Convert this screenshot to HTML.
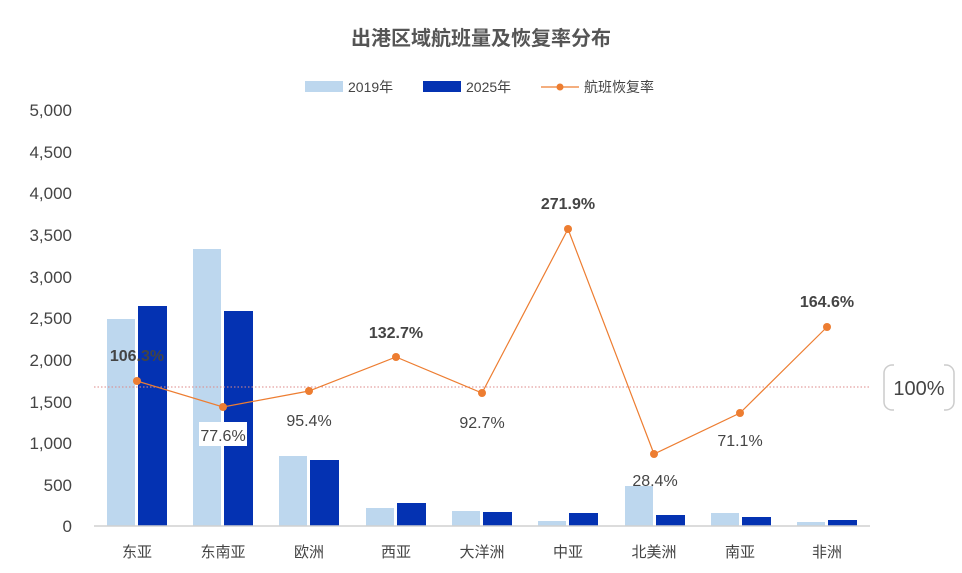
<!DOCTYPE html>
<html><head><meta charset="utf-8"><style>
body{margin:0;background:#fff;width:962px;height:568px;overflow:hidden}
text{font-family:"Liberation Sans","Noto Sans CJK SC",sans-serif}
</style></head><body>
<svg width="962" height="568" xmlns="http://www.w3.org/2000/svg">
<text x="481" y="45" text-anchor="middle" font-size="20" font-weight="bold" fill="#555">出港区域航班量及恢复率分布</text>
<g font-size="14" fill="#444">
<rect x="305" y="81" width="38" height="11" fill="#bdd7ee"/><text x="348" y="92">2019年</text>
<rect x="423" y="81" width="38" height="11" fill="#0432b2"/><text x="466" y="92">2025年</text>
<line x1="541" y1="87" x2="579" y2="87" stroke="#ed7d31" stroke-width="1.2"/><circle cx="560" cy="87" r="3.5" fill="#ed7d31"/><text x="584" y="92">航班恢复率</text>
</g>
<g font-size="17" fill="#444" text-anchor="end">
<text x="72" y="116">5,000</text><text x="72" y="158">4,500</text><text x="72" y="199">4,000</text>
<text x="72" y="241">3,500</text><text x="72" y="283">3,000</text><text x="72" y="324">2,500</text>
<text x="72" y="366">2,000</text><text x="72" y="408">1,500</text><text x="72" y="449">1,000</text>
<text x="72" y="491">500</text><text x="72" y="532">0</text>
</g>
<g fill="#bdd7ee">
<rect x="107" y="319" width="28" height="207"/><rect x="193" y="249" width="28" height="277"/>
<rect x="279" y="456" width="28" height="70"/><rect x="366" y="508" width="28" height="18"/>
<rect x="452" y="511" width="28" height="15"/><rect x="538" y="521" width="28" height="5"/>
<rect x="625" y="486" width="28" height="40"/><rect x="711" y="513" width="28" height="13"/>
<rect x="797" y="522" width="28" height="4"/>
</g>
<g fill="#0432b2">
<rect x="138" y="306" width="29" height="220"/><rect x="224" y="311" width="29" height="215"/>
<rect x="310" y="460" width="29" height="66"/><rect x="397" y="503" width="29" height="23"/>
<rect x="483" y="512" width="29" height="14"/><rect x="569" y="513" width="29" height="13"/>
<rect x="656" y="515" width="29" height="11"/><rect x="742" y="517" width="29" height="9"/>
<rect x="828" y="520" width="29" height="6"/>
</g>
<line x1="94" y1="526" x2="870" y2="526" stroke="#d0d0d0" stroke-width="1.5"/>
<line x1="94" y1="387" x2="870" y2="387" stroke="#d88" stroke-width="1" stroke-dasharray="1.5,2"/>
<rect x="884" y="365" width="70" height="45" rx="8" fill="#fff" stroke="#ccc" stroke-width="1.5"/>
<rect x="894" y="360" width="50" height="55" fill="#fff"/>
<text x="919" y="395" text-anchor="middle" font-size="20" fill="#444">100%</text>
<polyline points="137,381 223,407 309,391 396,357 482,393 568,229 654,454 740,413 827,327" fill="none" stroke="#ed7d31" stroke-width="1.2"/>
<g fill="#ed7d31">
<circle cx="137" cy="381" r="4"/><circle cx="223" cy="407" r="4"/><circle cx="309" cy="391" r="4"/>
<circle cx="396" cy="357" r="4"/><circle cx="482" cy="393" r="4"/><circle cx="568" cy="229" r="4"/>
<circle cx="654" cy="454" r="4"/><circle cx="740" cy="413" r="4"/><circle cx="827" cy="327" r="4"/>
</g>
<rect x="199" y="422" width="48" height="24" fill="#fff"/>
<g font-size="16" fill="#444" text-anchor="middle">
<text x="137" y="361" font-weight="bold">106.3%</text>
<text x="223" y="441">77.6%</text>
<text x="309" y="426">95.4%</text>
<text x="396" y="338" font-weight="bold">132.7%</text>
<text x="482" y="428">92.7%</text>
<text x="568" y="209" font-weight="bold">271.9%</text>
<text x="655" y="486">28.4%</text>
<text x="740" y="446">71.1%</text>
<text x="827" y="307" font-weight="bold">164.6%</text>
</g>
<g font-size="15" fill="#444" text-anchor="middle">
<text x="137" y="557">东亚</text><text x="223" y="557">东南亚</text><text x="309" y="557">欧洲</text>
<text x="396" y="557">西亚</text><text x="482" y="557">大洋洲</text><text x="568" y="557">中亚</text>
<text x="654" y="557">北美洲</text><text x="740" y="557">南亚</text><text x="827" y="557">非洲</text>
</g>
</svg>
</body></html>
